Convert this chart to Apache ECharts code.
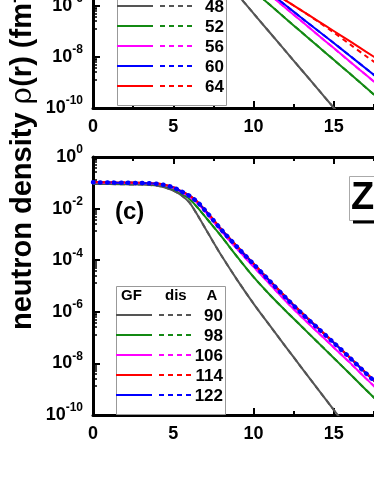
<!DOCTYPE html>
<html lang="en">
<head>
<meta charset="UTF-8">
<title>neutron density</title>
<script src="https://cdn.jsdelivr.net/npm/echarts@6/dist/echarts.min.js"></script>
<style>
  html, body { margin: 0; padding: 0; overflow: hidden; background: #fff; }
  /* the figure is bigger than the window: its top and right part are cut off like in the original */
  #container { position: absolute; left: 0; top: -160px; width: 440px; height: 644px; }
</style>
</head>
<body>
<div id="container"></div>
<script>
// radius points (fm)
var rTop = [0, 1, 2, 3, 4, 5, 6, 7, 8, 9, 10, 11, 12, 13, 14, 15, 16, 17, 18, 19, 20];
var rBot = [0, 1, 2, 3, 4, 4.5, 5, 5.5, 6, 6.5, 7, 7.5, 8, 9, 10, 11, 12, 13, 14, 15, 16, 17, 18, 19, 20];

// upper panel, log10 of density
var topMass = ['48', '52', '56', '60', '64'];
var gf48 = [-1.05, -1.05, -1.06, -1.12, -1.4, -2.1, -3.0, -3.92, -4.8, -5.55, -6.29, -7.03, -7.77, -8.51, -9.25, -9.99, -10.73, -11.47, -12.2, -12.9, -13.6];
var gf52 = [-1.06, -1.06, -1.06, -1.12, -1.4, -1.95, -2.7, -3.45, -4.15, -4.8, -5.4, -5.94, -6.49, -7.03, -7.57, -8.11, -8.65, -9.2, -9.74, -10.28, -10.8];
var gf56 = [-1.06, -1.06, -1.06, -1.1, -1.35, -1.85, -2.5, -3.15, -3.8, -4.4, -5.0, -5.55, -6.08, -6.6, -7.13, -7.65, -8.18, -8.7, -9.23, -9.75, -10.28];
var gf60 = [-1.06, -1.06, -1.06, -1.1, -1.32, -1.8, -2.45, -3.1, -3.75, -4.35, -4.93, -5.47, -5.97, -6.47, -6.96, -7.45, -7.95, -8.45, -8.95, -9.45, -9.95];
var gf64 = [-1.06, -1.06, -1.06, -1.1, -1.32, -1.8, -2.43, -3.08, -3.72, -4.3, -4.85, -5.35, -5.78, -6.18, -6.58, -6.98, -7.38, -7.79, -8.19, -8.59, -8.99];
var dis64 = [-1.06, -1.06, -1.06, -1.1, -1.32, -1.8, -2.43, -3.08, -3.72, -4.3, -4.85, -5.35, -5.78, -6.18, -6.6, -7.04, -7.5, -7.96, -8.4, -8.82, -9.22];

// lower panel (c)
var botMass = ['90', '98', '106', '114', '122'];
var gf90 = [-1.05, -1.05, -1.06, -1.07, -1.11, -1.18, -1.3, -1.48, -1.76, -2.24, -2.77, -3.3, -3.82, -4.78, -5.68, -6.52, -7.35, -8.17, -8.99, -9.8, -10.62, -11.4, -12.2, -13.0, -13.8];
var gf98 = [-1.02, -1.02, -1.03, -1.04, -1.07, -1.13, -1.24, -1.41, -1.62, -1.95, -2.32, -2.7, -3.08, -3.88, -4.65, -5.33, -5.96, -6.57, -7.18, -7.79, -8.4, -9.02, -9.62, -10.22, -10.82];
var gf106 = [-0.99, -1.0, -1.01, -1.02, -1.05, -1.1, -1.2, -1.36, -1.54, -1.78, -2.13, -2.5, -2.88, -3.58, -4.25, -4.92, -5.58, -6.2, -6.79, -7.38, -7.97, -8.58, -9.17, -9.76, -10.35];
var gf114 = [-0.97, -0.98, -0.99, -1.0, -1.03, -1.08, -1.17, -1.32, -1.49, -1.73, -2.06, -2.43, -2.8, -3.48, -4.13, -4.78, -5.42, -6.03, -6.61, -7.19, -7.77, -8.36, -8.95, -9.53, -10.11];
var gf122 = [-0.98, -0.99, -1.0, -1.01, -1.04, -1.09, -1.18, -1.33, -1.5, -1.74, -2.08, -2.45, -2.82, -3.5, -4.15, -4.8, -5.45, -6.06, -6.63, -7.2, -7.78, -8.38, -8.96, -9.54, -10.12];

var colors = ['#555555', '#138a13', '#ff00ff', '#0000ff', '#ff0000'];
var botColors = ['#555555', '#138a13', '#ff00ff', '#ff0000', '#0000ff'];

var xTicks = [0, 5, 10, 15, 20];

var topGF = [gf48, gf52, gf56, gf60, gf64];
var topDis = [gf48, gf52, gf56, gf60, dis64];
var botGF = [gf90, gf98, gf106, gf114, gf122];

var font = 'Liberation Sans, Arial, sans-serif';
var OY = 160; // container is moved up by this much

function pts(r, logs) {
    return r.map(function (x, i) { return [x, Math.pow(10, logs[i])]; });
}

var myChart = echarts.init(document.getElementById('container'));

var series = [];
// solid = GF, dashed = dis
topGF.forEach(function (d, i) {
    series.push({ type: 'line', xAxisIndex: 0, yAxisIndex: 0, data: pts(rTop, d), smooth: 0.3, symbol: 'none',
        lineStyle: { color: colors[i], width: 2 } });
});
topDis.forEach(function (d, i) {
    series.push({ type: 'line', xAxisIndex: 0, yAxisIndex: 0, data: pts(rTop, d), smooth: 0.3, symbol: 'none',
        lineStyle: { color: colors[i], width: 2, type: [5, 4] } });
});
botGF.forEach(function (d, i) {
    series.push({ type: 'line', xAxisIndex: 2, yAxisIndex: 1, data: pts(rBot, d), smooth: 0.3, symbol: 'none',
        lineStyle: { color: botColors[i], width: 2 } });
});
botGF.forEach(function (d, i) {
    var last = i === botGF.length - 1;
    series.push({ type: 'line', xAxisIndex: 2, yAxisIndex: 1, data: pts(rBot, d), smooth: 0.3, symbol: 'none',
        lineStyle: last ? { color: botColors[i], width: 4.5, type: [0.5, 6.5], cap: 'round' }
                        : { color: botColors[i], width: 2, type: [5, 4] } });
});

function xAxis(grid, pos, labels) {
    return {
        type: 'value', gridIndex: grid, position: pos, min: xTicks[0], max: xTicks[xTicks.length - 1], interval: 5,
        axisLine: { show: true, onZero: false, lineStyle: { color: '#000', width: 3 } },
        axisTick: { inside: true, length: 7, lineStyle: { color: '#000', width: 2 } },
        minorTick: { show: true, splitNumber: 2, length: 4, lineStyle: { color: '#000', width: 2 } },
        splitLine: { show: false },
        axisLabel: { show: labels, margin: 10, color: '#000', fontSize: 18, fontWeight: 'bold', fontFamily: font }
    };
}
function yAxis(grid) {
    return {
        type: 'log', logBase: 10, gridIndex: grid, min: 1e-10, max: 1, interval: 2,
        axisLine: { show: true, lineStyle: { color: '#000', width: 3 } },
        axisTick: { inside: true, length: 7, lineStyle: { color: '#000', width: 2 } },
        minorTick: { show: true, splitNumber: 8, length: 4, lineStyle: { color: '#000', width: 1.5 } },
        splitLine: { show: false },
        axisLabel: {
            margin: 10, color: '#000', fontFamily: font,
            formatter: function (v) {
                return '{b|10}{s|' + Math.round(Math.log10(v)) + '}';
            },
            rich: {
                b: { fontSize: 18, fontWeight: 'bold', fontFamily: font, color: '#000' },
                s: { fontSize: 12, fontWeight: 'bold', fontFamily: font, color: '#000', padding: [0, 0, 14, 0] }
            }
        }
    };
}

// legends and texts
var graphic = [];
function legend(x0, yFirst, labels, cols) {
    var boxTop = yFirst - 29;
    graphic.push({ type: 'rect', shape: { x: x0 + 0.5, y: boxTop + 0.5, width: 109, height: 20 * labels.length + 28 },
        style: { fill: '#fff', stroke: '#999', lineWidth: 1 }, z: 10 });
    graphic.push({ type: 'text', x: x0 + 5, y: boxTop + 10, z: 11,
        style: { text: 'GF', font: 'bold 15px ' + font, fill: '#000', textVerticalAlign: 'middle' } });
    graphic.push({ type: 'text', x: x0 + 49, y: boxTop + 10, z: 11,
        style: { text: 'dis', font: 'bold 15px ' + font, fill: '#000', textVerticalAlign: 'middle' } });
    graphic.push({ type: 'text', x: x0 + 96, y: boxTop + 10, z: 11,
        style: { text: 'A', font: 'bold 15px ' + font, fill: '#000', textAlign: 'center', textVerticalAlign: 'middle' } });
    labels.forEach(function (lab, i) {
        var y = yFirst + 20 * i;
        graphic.push({ type: 'line', z: 11, shape: { x1: x0, y1: y, x2: x0 + 36, y2: y },
            style: { stroke: cols[i], lineWidth: 2 } });
        graphic.push({ type: 'line', z: 11, shape: { x1: x0 + 43, y1: y, x2: x0 + 77, y2: y },
            style: { stroke: cols[i], lineWidth: 2, lineDash: [5, 4] } });
        graphic.push({ type: 'text', x: x0 + 107, y: y + 1, z: 11,
            style: { text: lab, font: 'bold 17px ' + font, fill: '#000', textAlign: 'right', textVerticalAlign: 'middle' } });
    });
}
legend(117, OY + 6, topMass, colors);
legend(116, OY + 315, botMass, botColors);

graphic.push({ type: 'text', x: 23, y: OY + 330, rotation: Math.PI / 2, z: 11,
    style: {
        text: '{a|neutron density }{g|ρ}{a|(r) (fm}{s|-3}{a|)}',
        textVerticalAlign: 'middle',
        rich: {
            a: { font: 'bold 29px ' + font, fill: '#000' },
            g: { font: '30px DejaVu Serif, serif', fill: '#000' },
            s: { font: 'bold 18px ' + font, fill: '#000', padding: [0, 0, 16, 0] }
        }
    } });
graphic.push({ type: 'text', x: 115, y: OY + 212, z: 11,
    style: { text: '(c)', font: 'bold 24px ' + font, fill: '#000', textVerticalAlign: 'middle' } });
graphic.push({ type: 'rect', z: 10, shape: { x: 349.5, y: OY + 176.5, width: 60, height: 44 },
    style: { fill: '#fff', stroke: '#aaa', lineWidth: 1 } });
graphic.push({ type: 'text', x: 351, y: OY + 199, z: 11,
    style: { text: 'Zr', font: 'bold 38px ' + font, fill: '#000', textVerticalAlign: 'middle' } });
graphic.push({ type: 'line', z: 11, shape: { x1: 353, y1: OY + 222, x2: 420, y2: OY + 222 },
    style: { stroke: '#000', lineWidth: 3 } });

myChart.setOption({
    backgroundColor: '#fff',
    animation: false,
    grid: [
        { left: 93, top: OY - 150, width: 321, height: 258 },
        { left: 93, top: OY + 157, width: 321, height: 258 }
    ],
    xAxis: [xAxis(0, 'bottom', true), xAxis(0, 'top', false), xAxis(1, 'bottom', true), xAxis(1, 'top', false)],
    yAxis: [yAxis(0), yAxis(1)],
    series: series,
    graphic: graphic
});
</script>
</body>
</html>
